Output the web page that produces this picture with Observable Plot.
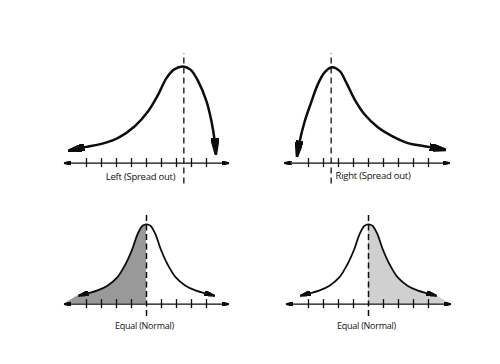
<!DOCTYPE html>
<html>
<head>
<meta charset="utf-8">
<script src="https://cdn.jsdelivr.net/npm/d3@7"></script>
<script src="https://cdn.jsdelivr.net/npm/@observablehq/plot@0.6"></script>
<style>
  html, body { margin: 0; padding: 0; background: #ffffff; }
  #chart { width: 500px; height: 364px; }
</style>
</head>
<body>
<div id="chart"></div>
<script>
// ---- data (x in tick units along each axis, y in curve-height units) ----
const panels      = ["topLeft", "topRight", "bottomLeft", "bottomRight"];
const panelCols   = ["left", "right", "left", "right"];
const panelRows   = ["top", "top", "bottom", "bottom"];
const panelLabels = ["Left (Spread out)", "Right (Spread out)", "Equal (Normal)", "Equal (Normal)"];
const modeX       = [6.49, 1.51, 4, 4];
const axisStart   = [-1.47, -1.6, -1.47, -1.47];
const axisEnd     = [9.47, 9.4, 9.47, 9.47];
const ticksTop    = [0, 1, 2, 3, 4, 5, 6, 7, 8];
const ticksBottom = [0, 1, 2, 3, 5, 6, 7, 8];

const topLeftX  = [-1.11, -0.11, 1.0, 2.11, 3.22, 4.11, 4.78, 5.33, 5.85, 6.45, 6.95, 7.45, 8.0, 8.33, 8.55, 8.62];
const topLeftY  = [0.127, 0.16, 0.193, 0.253, 0.37, 0.52, 0.687, 0.853, 0.94, 0.97, 0.935, 0.82, 0.62, 0.42, 0.22, 0.103];
const topRightX = [-0.75, -0.6, -0.27, 0.18, 0.62, 1.07, 1.51, 2.07, 2.51, 3.07, 3.73, 4.62, 5.51, 6.62, 7.73, 9.07];
const topRightY = [0.08, 0.21, 0.41, 0.61, 0.79, 0.91, 0.96, 0.925, 0.81, 0.64, 0.49, 0.36, 0.275, 0.20, 0.17, 0.135];
const bellX     = [-0.5, 0.05, 0.7, 1.4, 2.05, 2.6, 3.05, 3.4, 3.73, 4.0, 4.27, 4.6, 4.95, 5.4, 5.95, 6.6, 7.3, 7.95, 8.5];
const bellY     = [0.085, 0.108, 0.135, 0.185, 0.268, 0.40, 0.55, 0.70, 0.785, 0.80, 0.785, 0.70, 0.55, 0.40, 0.268, 0.185, 0.135, 0.108, 0.085];
const shaded    = ["none", "none", "left", "right"];

// ---- tables built from the arrays ----
const P = panels.map((id, i) => ({
  id, col: panelCols[i], row: panelRows[i], label: panelLabels[i],
  mode: modeX[i], x1: axisStart[i], x2: axisEnd[i], shade: shaded[i],
  mid: (axisStart[i] + axisEnd[i]) / 2
}));
const curveXs = {topLeft: topLeftX, topRight: topRightX, bottomLeft: bellX, bottomRight: bellX};
const curveYs = {topLeft: topLeftY, topRight: topRightY, bottomLeft: bellY, bottomRight: bellY};
const curves = P.flatMap(p => curveXs[p.id].map((x, i) => ({...p, x, y: curveYs[p.id][i]})));
const axisPts = P.flatMap(p => [{...p, x: p.x1, y: 0}, {...p, x: p.x2, y: 0}]);
const ticks = P.flatMap(p => (p.row === "top" ? ticksTop : ticksBottom).map(t => ({...p, x: t})));
const fillLeft = P.filter(p => p.shade === "left").flatMap(p =>
  [{...p, x: p.x1, y: 0}, ...curves.filter(d => d.id === p.id && d.x <= p.mode)]);
const fillRight = P.filter(p => p.shade === "right").flatMap(p =>
  [...curves.filter(d => d.id === p.id && d.x >= p.mode), {...p, x: p.x2, y: 0}]);

// ---- filled arrowhead marker ----
const NS = "http://www.w3.org/2000/svg";
function headMarker(len, wid) {
  return (color) => {
    const m = document.createElementNS(NS, "marker");
    const over = len * 0.12;
    m.setAttribute("viewBox", `${-len} ${-wid / 2} ${len + over} ${wid}`);
    m.setAttribute("markerUnits", "userSpaceOnUse");
    m.setAttribute("markerWidth", len + over);
    m.setAttribute("markerHeight", wid);
    m.setAttribute("refX", 0);
    m.setAttribute("refY", 0);
    m.setAttribute("orient", "auto-start-reverse");
    const path = document.createElementNS(NS, "path");
    path.setAttribute("d", `M${over},0L${-len},${-wid / 2}L${-len * 0.82},0L${-len},${wid / 2}Z`);
    path.setAttribute("fill", color);
    m.appendChild(path);
    return m;
  };
}
const bigHead = headMarker(15, 7.5);
const midHead = headMarker(10, 5);
const axisHead = headMarker(7, 4.5);

const INK = "#0d0d0d";
const TICK = 0.045;
const facetBy = {fx: "col", fy: "row"};
const isTop = d => d.row === "top";
const isBottom = d => d.row === "bottom";
const font = {fontFamily: "Open Sans", fill: "#111", letterSpacing: "-0.2px"};

const chart = Plot.plot({
  width: 500,
  height: 364,
  marginLeft: 28,
  marginRight: 27,
  marginTop: 45,
  marginBottom: 36,
  style: {background: "#ffffff", letterSpacing: "-0.25px"},
  fx: {domain: ["left", "right"], padding: 0, axis: null},
  fy: {domain: ["top", "bottom"], padding: 0, axis: null},
  x: {domain: [-3.8, 11], axis: null},
  y: {domain: [-0.245, 1.17], axis: null},
  marks: [
    Plot.areaY(fillLeft, {x: "x", y: "y", ...facetBy, z: "id", fill: "#999999", curve: "catmull-rom"}),
    Plot.areaY(fillRight, {x: "x", y: "y", ...facetBy, z: "id", fill: "#d0d0d0", curve: "catmull-rom"}),
    Plot.line(axisPts, {x: "x", y: "y", ...facetBy, z: "id", stroke: INK, strokeWidth: 1.3,
      markerStart: axisHead, markerEnd: axisHead}),
    Plot.ruleX(ticks, {x: "x", y1: -TICK, y2: TICK, ...facetBy, stroke: INK, strokeWidth: 1.3}),
    Plot.ruleX(P.filter(isTop), {x: "mode", y1: -0.21, y2: 1.10, ...facetBy, stroke: INK,
      strokeWidth: 1.3, strokeDasharray: "6,4"}),
    Plot.ruleX(P.filter(isBottom), {x: "mode", y1: -0.125, y2: 0.915, ...facetBy, stroke: INK,
      strokeWidth: 1.5, strokeDasharray: "6,3.5"}),
    Plot.line(curves.filter(isTop), {x: "x", y: "y", ...facetBy, z: "id", stroke: INK, strokeWidth: 2.5,
      curve: "catmull-rom", markerStart: bigHead, markerEnd: bigHead}),
    Plot.line(curves.filter(isBottom), {x: "x", y: "y", ...facetBy, z: "id", stroke: INK, strokeWidth: 1.8,
      curve: "catmull-rom", markerStart: midHead, markerEnd: midHead}),
    Plot.text(P.filter(d => d.id === "topLeft"), {x: "mid", y: 0, text: "label", ...facetBy, dx: -6, dy: 14,
      fontSize: 9.5, fontFamily: font.fontFamily, fill: font.fill}),
    Plot.text(P.filter(d => d.id === "topRight"), {x: "mid", y: 0, text: "label", ...facetBy, dx: 6, dy: 13,
      fontSize: 9.5, fontFamily: font.fontFamily, fill: font.fill}),
    Plot.text(P.filter(isBottom), {x: "mid", y: 0, text: "label", ...facetBy, dx: -2, dy: 22,
      fontSize: 9, fontFamily: font.fontFamily, fill: font.fill})
  ]
});
document.getElementById("chart").appendChild(chart);
</script>
</body>
</html>
